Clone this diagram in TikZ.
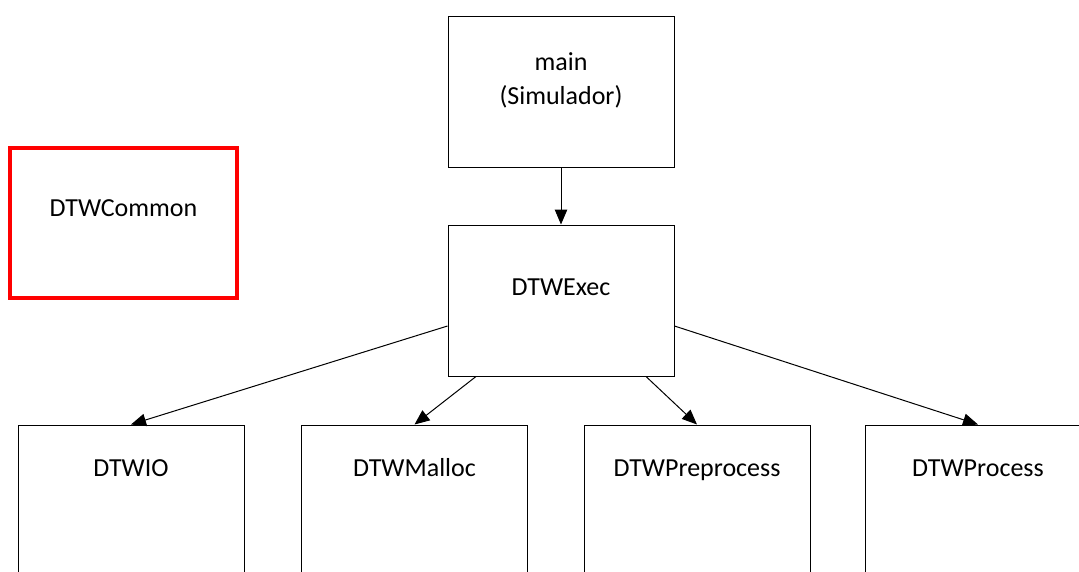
\documentclass[tikz,border=0pt]{standalone}
\usepackage{fontspec}
\setmainfont{Carlito}
\usetikzlibrary{arrows.meta}
\begin{document}
\begin{tikzpicture}[x=1pt,y=-1pt,
  modbox/.style={draw=black,line width=1pt,rectangle,inner sep=0pt,
    minimum width=226pt,minimum height=151pt},
  hotbox/.style={modbox,draw=red,line width=3.5pt},
  lbl/.style={inner sep=0pt,anchor=base,font=\fontsize{26}{33}\selectfont},
  dep/.style={line width=1pt,-{Triangle[length=15pt,width=12.5pt]}}]
  \useasboundingbox (0,0) rectangle (1079,571);
  \clip (0,0) rectangle (1079,571);

  % module boxes
  \node[modbox] (main)    at (561,91.5)  {};
  \node[modbox] (exec)    at (561,300.5) {};
  \node[hotbox,minimum width=227pt,minimum height=150pt] (common) at (123.5,223) {};
  \node[modbox] (io)      at (131,500.5)   {};
  \node[modbox] (malloc)  at (414.5,500.5) {};
  \node[modbox] (prep)    at (697,500.5)   {};
  \node[modbox] (process) at (978,500.5)   {};

  % module names, placed by their baselines
  \node[lbl] (main-t1)   at ([yshift=-55pt]main.north)    {main};
  \node[lbl] (main-t2)   at ([yshift=-89pt]main.north)    {(Simulador)};
  \node[lbl] (exec-t)    at ([yshift=-71pt]exec.north)    {DTWExec};
  \node[lbl] (common-t)  at ([yshift=-70pt]common.north)  {DTWCommon};
  \node[lbl] (io-t)      at ([yshift=-52pt]io.north)      {DTWIO};
  \node[lbl] (malloc-t)  at ([yshift=-52pt]malloc.north)  {DTWMalloc};
  \node[lbl] (prep-t)    at ([yshift=-52pt]prep.north)    {DTWPreprocess};
  \node[lbl] (process-t) at ([yshift=-52pt]process.north) {DTWProcess};

  % dependencies
  \draw[dep] (main.south) -- (exec.north);
  \draw[dep] ([yshift=-25.5pt]exec.west) -- (io.north);
  \draw[dep] ([xshift=-85pt]exec.south) -- (malloc.north);
  \draw[dep] ([xshift=85pt]exec.south) -- (prep.north);
  \draw[dep] ([yshift=-25.5pt]exec.east) -- (process.north);
\end{tikzpicture}
\end{document}
